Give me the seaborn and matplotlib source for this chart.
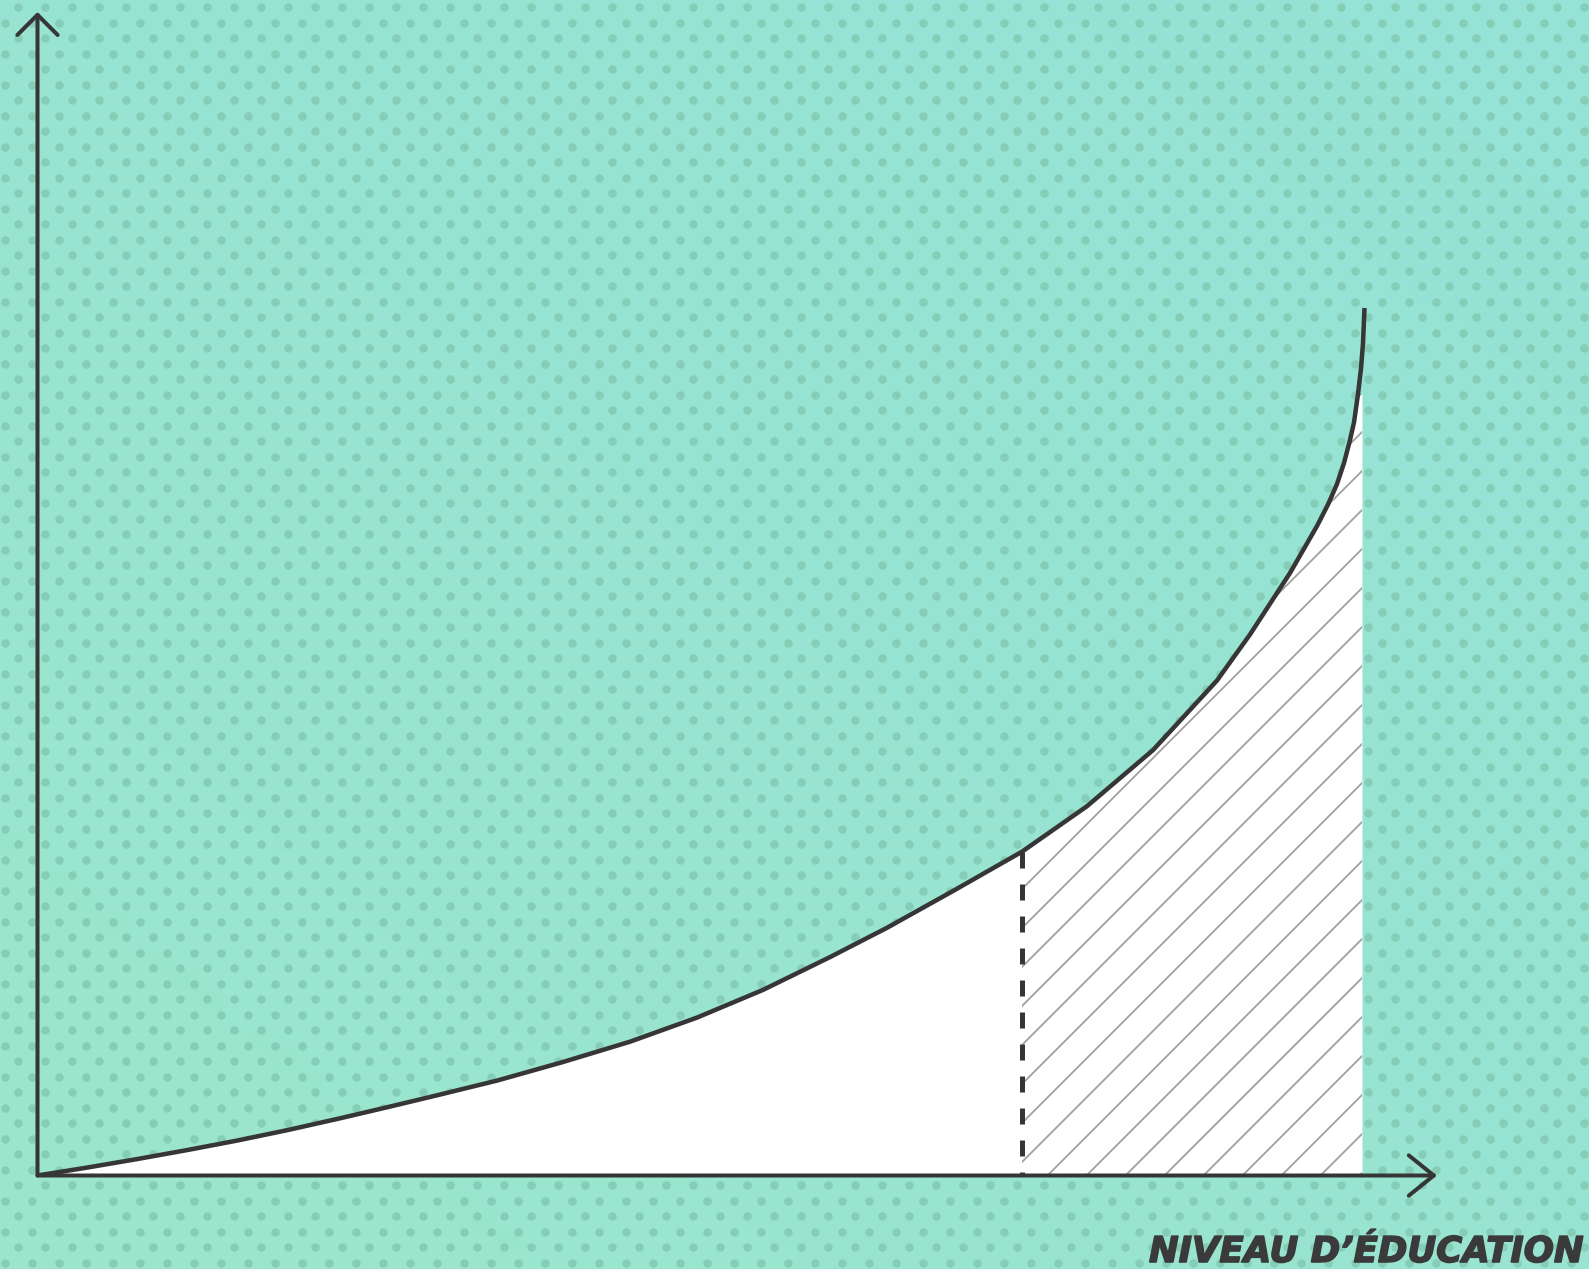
import numpy as np
import matplotlib
matplotlib.use("Agg")
import matplotlib.pyplot as plt
import matplotlib.patheffects as pe
import seaborn as sns

# curve (x = education level, y = value, both 0-100)
edu_level = [0.0, 3.537, 7.110, 10.682, 14.255, 17.828, 21.401, 24.973, 28.546,
             32.833, 37.549, 42.337, 47.124, 51.840, 56.627, 60.700, 65.416,
             70.347, 74.991, 79.707, 84.280, 86.638, 89.496, 91.426, 92.212,
             92.855, 93.355, 93.784, 94.069, 94.355, 94.570, 94.713, 94.820]
value = [0.0, 0.679, 1.410, 2.183, 3.000, 3.893, 4.856, 5.862, 6.893,
         8.156, 9.755, 11.500, 13.571, 15.952, 18.771, 21.289, 24.452,
         27.830, 31.740, 36.562, 42.544, 46.498, 51.783, 55.823, 57.671,
         59.433, 61.238, 63.215, 64.727, 67.168, 69.360, 71.551, 74.560]
cut_level = 70.347     # dashed threshold
fill_end = 94.64       # white area stops here
fill_top = 67.168      # white area top at its right edge
x_label = "NIVEAU D’ÉDUCATION"

W, H, DPI = 1589, 1269, 234
PX = 72 / DPI   # one pixel in points

sns.set_theme(style="white")
plt.rcParams["hatch.linewidth"] = 1.8 * PX

fig = plt.figure(figsize=(W / DPI, H / DPI), dpi=DPI)

# background: soft mint gradient with dot texture
bg = fig.add_axes([0, 0, 1, 1])
bg.set_xlim(0, W)
bg.set_ylim(H, 0)
bg.axis("off")
c0 = np.array([155, 230, 203]) / 255
c1 = np.array([149, 226, 215]) / 255
gx, gy = np.meshgrid(np.linspace(0, 1, 64), np.linspace(0, 1, 64))
t = ((gx + (1 - gy)) / 2)[..., None]
bg.imshow(c0 * (1 - t) + c1 * t, extent=[0, W, H, 0], aspect="auto", zorder=0)
dx, dy = [], []
for i, yy in enumerate(np.arange(7, H + 10, 15.5)):
    start = 18 if i % 2 == 0 else 4.5
    xs = np.arange(start, W + 10, 27)
    dx.extend(xs)
    dy.extend([yy] * len(xs))
bg.scatter(dx, dy, s=(8.5 * PX) ** 2, color="#85cdb7", linewidths=0, zorder=1)

# main chart
ax = fig.add_axes([37.5 / W, (H - 1175.5) / H, 1399.5 / W, 1163.5 / H])
ax.set_facecolor("none")
ax.set_xlim(0, 100)
ax.set_ylim(0, 100)
for s in ax.spines.values():
    s.set_visible(False)
ax.set_xticks([])
ax.set_yticks([])

x = np.array(edu_level)
y = np.array(value)
m = y <= fill_top
xf = np.append(x[m], fill_end)
yf = np.append(y[m], fill_top)
ax.fill_between(xf, 0, yf, color="white", linewidth=0, zorder=2)
h = xf >= cut_level
ax.fill_between(xf[h], 0, yf[h], facecolor="white", edgecolor="#a0a0a0",
                hatch="//", linewidth=0, zorder=3)

ink = "#363636"
# dashed threshold, drawn from the curve down so a dash starts at the top
ax.plot([cut_level, cut_level], [np.interp(cut_level, x, y), 0], color=ink,
        linewidth=5 * PX, linestyle=(0, (3.2, 3.2)), dash_capstyle="butt",
        zorder=4)
sns.lineplot(x=x, y=y, sort=False, ax=ax, color=ink, linewidth=4.5 * PX,
             zorder=5, solid_capstyle="butt")

# axis arrows
ax.annotate("", xy=(1, 0), xytext=(0, 0), xycoords="axes fraction",
            arrowprops=dict(arrowstyle="->,head_length=0.77,head_width=0.62",
                            color=ink, lw=4 * PX, shrinkA=0, shrinkB=0,
                            mutation_scale=10), zorder=6)
ax.annotate("", xy=(0, 1), xytext=(0, 0), xycoords="axes fraction",
            arrowprops=dict(arrowstyle="->,head_length=0.62,head_width=0.62",
                            color=ink, lw=4 * PX, shrinkA=0, shrinkB=0,
                            mutation_scale=10), zorder=6)

lab = fig.text(1584 / W, (H - 1262) / H, x_label, ha="right", va="baseline",
               fontsize=35.5 * PX, family="DejaVu Sans", weight="bold",
               style="oblique", color="#3a3a3a")
lab.set_path_effects([pe.withStroke(linewidth=1.6 * PX, foreground="#3a3a3a")])

fig.savefig("out.png", dpi=DPI)
